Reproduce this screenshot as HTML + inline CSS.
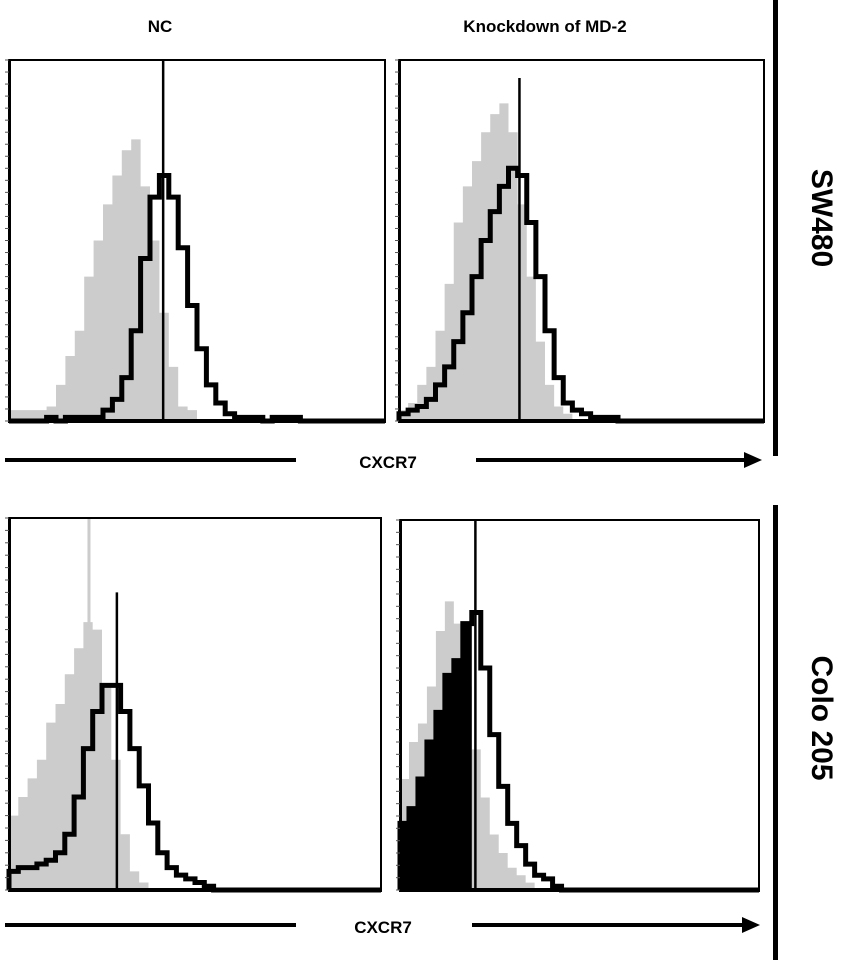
<!DOCTYPE html>
<html><head><meta charset="utf-8"><style>
html,body{margin:0;padding:0;background:#fff;}
svg{display:block;font-family:"Liberation Sans",Arial,sans-serif;}
</style></head><body>
<svg id="fig" width="846" height="960" viewBox="0 0 846 960" xmlns="http://www.w3.org/2000/svg">
<text x="160" y="32" font-size="17" font-weight="bold" text-anchor="middle">NC</text>
<text x="545" y="32" font-size="17" font-weight="bold" text-anchor="middle">Knockdown of MD-2</text>
<rect x="773" y="0" width="5" height="456" fill="#000"/>
<rect x="773" y="505" width="5" height="455" fill="#000"/>
<text transform="translate(812,218) rotate(90)" font-size="30" font-weight="bold" text-anchor="middle">SW480</text>
<text transform="translate(812,718) rotate(90)" font-size="30" font-weight="bold" text-anchor="middle">Colo 205</text>
<g>
<rect x="5" y="458" width="291" height="4" fill="#000"/>
<rect x="476" y="458" width="270" height="4" fill="#000"/>
<polygon points="744,452 762,460 744,468" fill="#000"/>
<text x="388" y="468" font-size="17" font-weight="bold" text-anchor="middle">CXCR7</text>
</g>
<g>
<rect x="5" y="923" width="291" height="4" fill="#000"/>
<rect x="472" y="923" width="272" height="4" fill="#000"/>
<polygon points="742,917 760,925 742,933" fill="#000"/>
<text x="383" y="933" font-size="17" font-weight="bold" text-anchor="middle">CXCR7</text>
</g>
<g id="panels"></g>
</svg>
<script>
// histogram counts (% of max), 40 bins across the CXCR7 axis
const tlGrey = [3,3,3,3,4,10,18,25,40,50,60,68,75,78,65,50,30,15,4,3,0,0,0,0,0,0,0,0,0,0,0,0,0,0,0,0,0,0,0,0];
const tlBlack = [0,0,0,0,1,0,1,1,1,1,3,6,12,25,45,62,68,62,48,32,20,10,5,2,1,1,1,0,1,1,1,0,0,0,0,0,0,0,0,0];
const trGrey = [3,5,10,15,25,38,55,65,72,80,85,88,80,60,40,22,10,4,2,0,0,0,0,0,0,0,0,0,0,0,0,0,0,0,0,0,0,0,0,0];
const trBlack = [2,3,4,6,10,15,22,30,40,50,58,65,70,68,55,40,25,12,5,3,2,1,1,1,0,0,0,0,0,0,0,0,0,0,0,0,0,0,0,0];
const blGrey = [20,25,30,35,45,50,58,65,72,70,55,35,15,5,2,0,0,0,0,0,0,0,0,0,0,0,0,0,0,0,0,0,0,0,0,0,0,0,0,0];
const blBlack = [5,6,6,7,8,10,15,25,38,48,55,55,48,38,28,18,10,6,4,3,2,1,0,0,0,0,0,0,0,0,0,0,0,0,0,0,0,0,0,0];
const brGrey = [30,40,45,55,70,78,72,55,38,25,15,10,6,4,2,0,0,0,0,0,0,0,0,0,0,0,0,0,0,0,0,0,0,0,0,0,0,0,0,0];
const brBlack = [18,22,30,40,48,58,62,72,75,60,42,28,18,12,7,4,3,1,0,0,0,0,0,0,0,0,0,0,0,0,0,0,0,0,0,0,0,0,0,0];
// single-channel spikes: [position fraction along axis, % height]
const tlSpike = [0.41, 100];
const trSpike = [0.33, 95];
const blSpike = [0.29, 80];
const brSpike = [0.21, 100];
const blGreySpike = [0.215, 100];
const brFillBins = 8;

const NS = "http://www.w3.org/2000/svg";
const root = document.getElementById('panels');
function mk(tag, attrs, parent){const e=document.createElementNS(NS,tag);for(const k in attrs)e.setAttribute(k,attrs[k]);parent.appendChild(e);return e;}

function panel(name, x0, y0, w, h, grey, black, spike, greySpike, fillBins){
  const g = mk('g',{},root);
  
  
  const n = grey.length, bw = w/n;
  const xs = i => x0 + i*bw;
  const ys = v => y0 + h - v/100*h;
  let d = `M${x0},${y0+h}`;
  grey.forEach((v,i)=>{ d += ` L${xs(i)},${ys(v)} L${xs(i+1)},${ys(v)}`; });
  d += ` L${x0+w},${y0+h} Z`;
  const gp = mk('path',{d:d,fill:'#cccccc',stroke:'none'},g);
  
  
  if(greySpike){
    const s = mk('line',{x1:x0+greySpike[0]*w,x2:x0+greySpike[0]*w,y1:y0+h,y2:ys(greySpike[1]),stroke:'#cccccc','stroke-width':3},g);
    
    
  }
  if(fillBins){
    let f = `M${x0},${y0+h}`;
    for(let i=0;i<fillBins;i++){ f += ` L${xs(i)},${ys(black[i])} L${xs(i+1)},${ys(black[i])}`; }
    f += ` L${xs(fillBins)},${y0+h} Z`;
    const fp = mk('path',{d:f,fill:'#000'},g);
    
    
  }
  let b = `M${x0},${y0+h}`;
  black.forEach((v,i)=>{ b += ` L${xs(i)},${ys(v)} L${xs(i+1)},${ys(v)}`; });
  const bp = mk('path',{d:b,fill:'none',stroke:'#000','stroke-width':5,'stroke-linejoin':'miter'},g);
  
  
  const sp = mk('line',{x1:x0+spike[0]*w,x2:x0+spike[0]*w,y1:y0+h,y2:ys(spike[1]),stroke:'#000','stroke-width':2.5},g);
  
  
  const fr = mk('rect',{x:x0,y:y0,width:w,height:h,fill:'none',stroke:'#000','stroke-width':2},g);
  
  
  const ax = mk('rect',{x:x0-1,y:y0+h-2,width:w+2,height:4,fill:'#000'},g);
  
  
  const ay = mk('rect',{x:x0-1,y:y0,width:3,height:h,fill:'#000'},g);
  
  
  for(let k=0;k<=30;k++){
    const t = mk('line',{x1:x0-4,x2:x0,y1:y0+k*h/30,y2:y0+k*h/30,stroke:'#555','stroke-width':1},g);
    
    
  }
}
panel('panel-sw480-nc', 9, 60, 376, 361, tlGrey, tlBlack, tlSpike, null, 0);
panel('panel-sw480-knockdown', 399, 60, 365, 361, trGrey, trBlack, trSpike, null, 0);
panel('panel-colo205-nc', 9, 518, 372, 372, blGrey, blBlack, blSpike, blGreySpike, 0);
panel('panel-colo205-knockdown', 400, 520, 359, 370, brGrey, brBlack, brSpike, null, brFillBins);
</script>
</body></html>
